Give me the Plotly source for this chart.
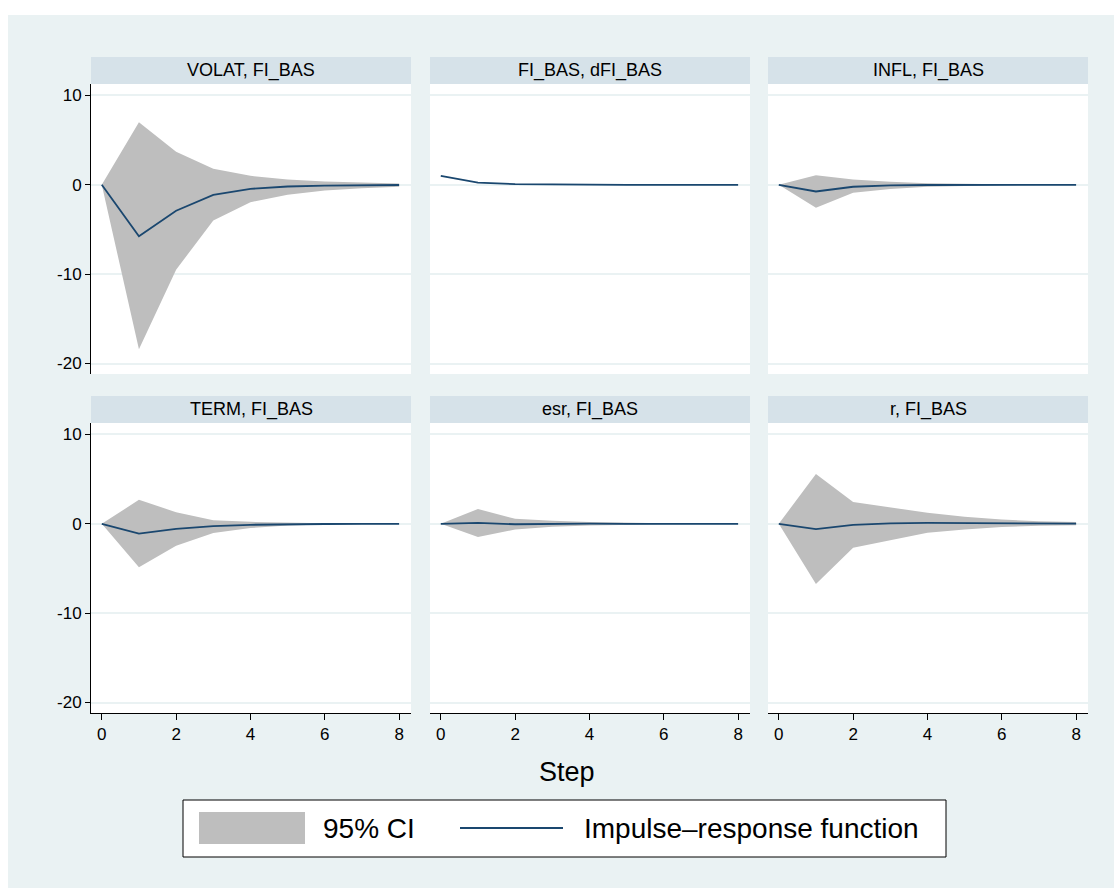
import plotly.graph_objects as go

W, H = 1114, 888

steps = [0, 1, 2, 3, 4, 5, 6, 7, 8]
titles = ["VOLAT, FI_BAS", "FI_BAS, dFI_BAS", "INFL, FI_BAS",
          "TERM, FI_BAS", "esr, FI_BAS", "r, FI_BAS"]

irf_volat = [0, -5.75, -2.9, -1.12, -0.45, -0.19, -0.09, -0.04, -0.02]
lo_volat = [0, -18.4, -9.5, -4.0, -1.95, -1.1, -0.65, -0.38, -0.22]
hi_volat = [0, 7.0, 3.7, 1.8, 1.0, 0.6, 0.38, 0.22, 0.14]

irf_dfi = [1.0, 0.25, 0.07, 0.02, 0.01, 0.0, 0.0, 0.0, 0.0]
lo_dfi = [1.0, 0.23, 0.06, 0.015, 0.005, 0.0, 0.0, 0.0, 0.0]
hi_dfi = [1.0, 0.27, 0.08, 0.025, 0.015, 0.0, 0.0, 0.0, 0.0]

irf_infl = [0, -0.75, -0.22, -0.07, -0.02, -0.01, 0.0, 0.0, 0.0]
lo_infl = [0, -2.57, -0.9, -0.48, -0.22, -0.1, -0.05, -0.03, -0.02]
hi_infl = [0, 1.08, 0.6, 0.33, 0.18, 0.1, 0.05, 0.03, 0.02]

irf_term = [0, -1.1, -0.56, -0.26, -0.11, -0.04, -0.02, -0.01, 0.0]
lo_term = [0, -4.87, -2.45, -1.04, -0.48, -0.2, -0.07, -0.03, -0.01]
hi_term = [0, 2.68, 1.3, 0.41, 0.22, 0.1, 0.05, 0.02, 0.01]

irf_esr = [0, 0.1, -0.05, 0.0, 0.01, 0.0, 0.0, 0.0, 0.0]
lo_esr = [0, -1.49, -0.63, -0.33, -0.19, -0.08, -0.04, -0.02, -0.01]
hi_esr = [0, 1.67, 0.56, 0.33, 0.2, 0.1, 0.05, 0.03, 0.01]

irf_r = [0, -0.6, -0.11, 0.04, 0.1, 0.07, 0.05, 0.03, 0.02]
lo_r = [0, -6.73, -2.68, -1.82, -1.0, -0.63, -0.37, -0.22, -0.15]
hi_r = [0, 5.58, 2.45, 1.82, 1.23, 0.78, 0.48, 0.3, 0.19]

x_ticks = [0, 2, 4, 6, 8]
y_ticks = [10, 0, -10, -20]
y_tick_labels = ["10", "0", "-10", "-20"]

panels = [
    (irf_volat, lo_volat, hi_volat),
    (irf_dfi, lo_dfi, hi_dfi),
    (irf_infl, lo_infl, hi_infl),
    (irf_term, lo_term, hi_term),
    (irf_esr, lo_esr, hi_esr),
    (irf_r, lo_r, hi_r),
]

BG = "#EAF2F3"
STRIP = "#D6E2E9"
BAND = "#BEBEBE"
NAVY = "#1A476F"
FONT = "Liberation Sans"

col_px = [(91, 411), (430, 750), (768, 1088)]
row_px = [(84, 374), (423, 713)]
strip_h = 27


def px_x(p):
    return p / W


def px_y(p):
    return 1 - p / H


fig = go.Figure()
layout = dict(
    width=W, height=H,
    margin=dict(l=0, r=0, t=0, b=0),
    paper_bgcolor=BG,
    plot_bgcolor="white",
    showlegend=False,
    font=dict(family=FONT, color="black"),
)
shapes = []
annotations = []

for i, (irf, lo, hi) in enumerate(panels):
    r, c = divmod(i, 3)
    sfx = "" if i == 0 else str(i + 1)
    xa, ya = "x" + sfx, "y" + sfx
    fig.add_trace(go.Scatter(x=steps, y=lo, xaxis=xa, yaxis=ya, mode="lines",
                             line=dict(width=0, color=BAND), hoverinfo="skip",
                             name="95% CI"))
    fig.add_trace(go.Scatter(x=steps, y=hi, xaxis=xa, yaxis=ya, mode="lines",
                             line=dict(width=0, color=BAND), fill="tonexty",
                             fillcolor=BAND, name="95% CI"))
    fig.add_trace(go.Scatter(x=steps, y=irf, xaxis=xa, yaxis=ya, mode="lines",
                             line=dict(width=1.8, color=NAVY),
                             name="Impulse\u2013response function"))

    x0, x1 = col_px[c]
    y0, y1 = row_px[r]
    layout["xaxis" + sfx] = dict(
        domain=[px_x(x0), px_x(x1)], anchor=ya, range=[-0.29, 8.32],
        tickvals=x_ticks, showgrid=False, zeroline=False,
        showline=(r == 1), linecolor="black", linewidth=1,
        ticks="outside" if r == 1 else "", ticklen=6, tickcolor="black",
        showticklabels=(r == 1), tickfont=dict(size=17, family=FONT),
    )
    layout["yaxis" + sfx] = dict(
        domain=[px_y(y1), px_y(y0)], anchor=xa, range=[-21.17, 11.28],
        tickvals=y_ticks, ticktext=y_tick_labels,
        showgrid=True, gridcolor=BG, gridwidth=1.5,
        zeroline=False,
        showline=(c == 0), linecolor="black", linewidth=1,
        ticks="outside" if c == 0 else "", ticklen=5, tickcolor="black",
        showticklabels=(c == 0), tickfont=dict(size=17, family=FONT),
    )
    # title strip
    shapes.append(dict(type="rect", xref="paper", yref="paper",
                       x0=px_x(x0), x1=px_x(x1), y0=px_y(y0), y1=px_y(y0 - strip_h),
                       fillcolor=STRIP, line=dict(width=0), layer="below"))
    annotations.append(dict(text=titles[i], xref="paper", yref="paper",
                            x=px_x((x0 + x1) / 2), y=px_y(y0 - strip_h / 2),
                            xanchor="center", yanchor="middle", showarrow=False,
                            font=dict(size=18, family=FONT, color="black")))

# white outer border (top and left)
shapes.append(dict(type="rect", xref="paper", yref="paper", x0=0, x1=1,
                   y0=px_y(15), y1=1, fillcolor="white", line=dict(width=0), layer="below"))
shapes.append(dict(type="rect", xref="paper", yref="paper", x0=0, x1=px_x(8),
                   y0=0, y1=1, fillcolor="white", line=dict(width=0), layer="below"))

# x axis title
annotations.append(dict(text="Step", xref="paper", yref="paper",
                        x=px_x(567), y=px_y(772), xanchor="center", yanchor="middle",
                        showarrow=False, font=dict(size=27, family=FONT, color="black")))

# legend box
shapes.append(dict(type="rect", xref="paper", yref="paper",
                   x0=px_x(183), x1=px_x(946), y0=px_y(857), y1=px_y(800),
                   fillcolor="white", line=dict(color="black", width=1)))
shapes.append(dict(type="rect", xref="paper", yref="paper",
                   x0=px_x(199), x1=px_x(305), y0=px_y(844), y1=px_y(812),
                   fillcolor=BAND, line=dict(width=0)))
shapes.append(dict(type="line", xref="paper", yref="paper",
                   x0=px_x(460), x1=px_x(563), y0=px_y(828), y1=px_y(828),
                   line=dict(color=NAVY, width=2)))
annotations.append(dict(text="95% CI", xref="paper", yref="paper",
                        x=px_x(321), y=px_y(828), xanchor="left", yanchor="middle",
                        showarrow=False, font=dict(size=28, family=FONT, color="black")))
annotations.append(dict(text="Impulse\u2013response function", xref="paper", yref="paper",
                        x=px_x(582), y=px_y(828), xanchor="left", yanchor="middle",
                        showarrow=False, font=dict(size=28, family=FONT, color="black")))

layout["shapes"] = shapes
layout["annotations"] = annotations
fig.update_layout(**layout)
fig.write_html("out.html")
